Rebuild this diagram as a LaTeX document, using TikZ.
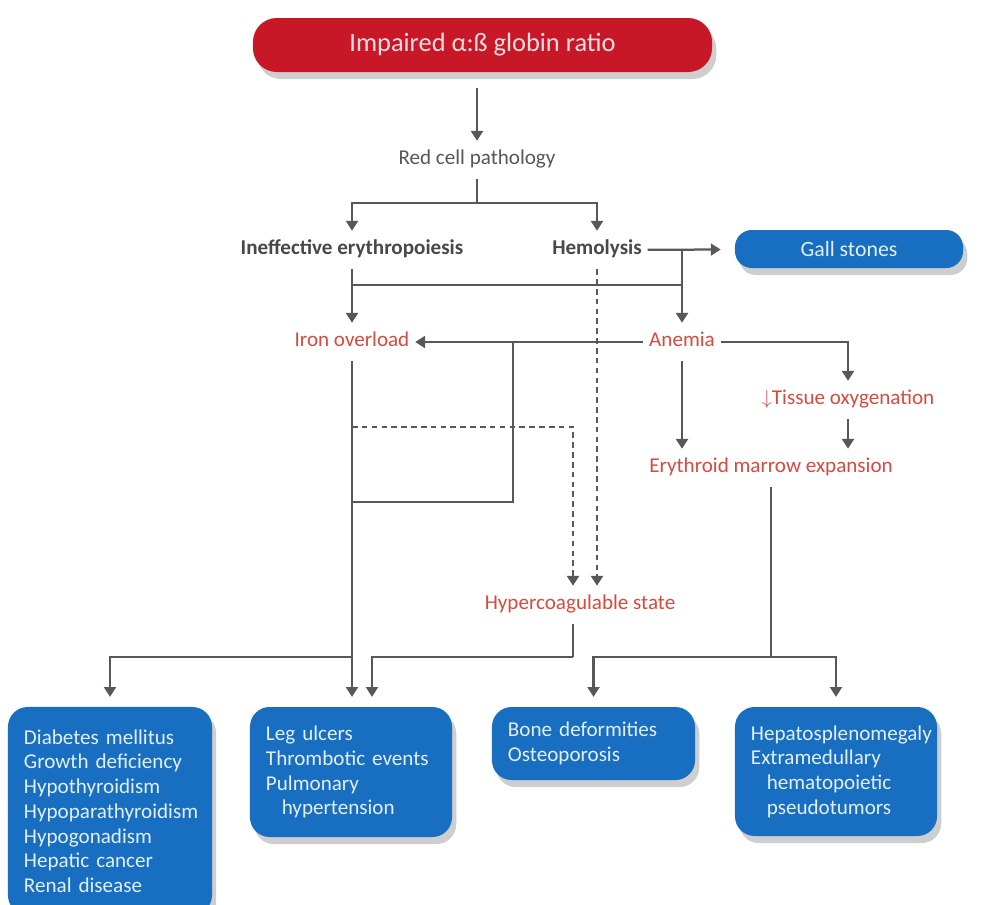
\documentclass[tikz,border=0pt]{standalone}
\usepackage{fontspec}
\setmainfont{Carlito}
\usetikzlibrary{arrows.meta,shadows}

\definecolor{ratiored}{RGB}{200,24,40}
\definecolor{organblue}{RGB}{24,110,192}
\definecolor{stepred}{RGB}{216,74,64}
\definecolor{wiregray}{RGB}{88,88,88}
\definecolor{labelgray}{RGB}{72,72,72}

\tikzset{
	wire/.style={draw=wiregray, line width=1.6pt},
	flow/.style={wire, -{Triangle[length=7pt,width=8.5pt]}},
	maybe/.style={flow, dash pattern=on 4pt off 3pt},
	soft/.style={drop shadow={shadow xshift=3pt, shadow yshift=-5pt, fill=black!55, opacity=.35}},
	cause/.style={inner xsep=4pt, inner ysep=7pt, text height=10pt, text depth=3pt, font=\fontsize{15}{17}\selectfont},
	grayword/.style={cause, text=labelgray, font=\fontsize{15}{17}\selectfont\bfseries},
	redword/.style={cause, text=stepred},
	organs/.style={soft, fill=organblue, rounded corners=14pt, text=white!88!organblue, align=left, inner xsep=0.4cm, inner ysep=0pt, font=\fontsize{15}{17.6}\selectfont},
}

\begin{document}
\begin{tikzpicture}[x=0.025cm, y=-0.025cm]
		%%%%% START %%%%%
		\useasboundingbox (0,0) rectangle (990,904);
		\clip (0,0) rectangle (990,904);
		\fill[white] (0,0) rectangle (990,904);
		
		\node[soft, fill=ratiored, rounded corners=17pt, minimum width=11.475cm, minimum height=1.35cm, text=white!85!ratiored, font=\fontsize{18.8}{21}\selectfont] (impaired) at (482.5,45) {Impaired α:ß globin ratio};
		\node[cause, text=wiregray] (redcell) at (477,160) {Red cell pathology};
		
		\node[grayword] (ineff) at (352,250) {Ineffective erythropoiesis};
		\node[grayword] (hemo) at (597,250) {Hemolysis};
		\node[soft, fill=organblue, rounded corners=12pt, minimum width=5.7cm, minimum height=0.95cm, text=white!88!organblue, font=\fontsize{15.5}{17}\selectfont] (gall) at (849,249) {Gall stones};
		
		\node[redword] (iron) at (352,342) {Iron overload};
		\node[redword] (anemia) at (682,342) {Anemia};
		\node[redword] (tissue) at (848,400) {$\downarrow$Tissue oxygenation};
		\node[redword] (erythroid) at (771,468) {Erythroid marrow expansion};
		\node[redword] (hyper) at (580,605) {Hypercoagulable state};
		
		\node[organs, text width=4.3cm, minimum height=5.2cm] (endocrine) at (110,811) {Diabetes mellitus\\Growth deficiency\\Hypothyroidism\\Hypoparathyroidism\\Hypogonadism\\Hepatic cancer\\Renal disease};
		\node[organs, text width=4.25cm, minimum height=3.25cm] (legs) at (351,772) {Leg ulcers\\Thrombotic events\\Pulmonary\\\hspace*{0.75em}hypertension};
		\node[organs, text width=4.275cm, minimum height=1.825cm] (bone) at (593.5,743.5) {Bone deformities\\Osteoporosis};
		\node[organs, text width=4.25cm, minimum height=3.225cm] (hepato) at (836,771.5) {Hepatosplenomegaly\\Extramedullary\\\hspace*{0.75em}hematopoietic\\\hspace*{0.75em}pseudotumors};
		
		% junctions
		\coordinate (split) at (477,203);
		\coordinate (hjoin) at (682,250);
		\coordinate (ijoin) at (352,285);
		\coordinate (abranch) at (513,342);
		\coordinate (ajoin) at (352,502);
		\coordinate (dstart) at (352,427);
		\coordinate (isplit) at (352,657);
		\coordinate (hsplit) at (573,657);
		\coordinate (esplit) at (771,657);
		
		\draw[flow, shorten <=11pt] (impaired.south -| redcell.north) -- (redcell.north);
		\draw[wire] (redcell) -- (split);
		\draw[flow] (split) -| (ineff);
		\draw[flow] (split) -| (hemo);
		
		\draw[flow, shorten >=10pt] (hemo) -- (gall);
		\draw[flow] (hjoin) -- (anemia);
		\draw[flow] (ineff) -- (iron);
		\draw[wire] (ijoin) -- (ijoin -| anemia);
		
		\draw[flow] (anemia) -- (iron);
		\draw[wire] (abranch) |- (ajoin);
		\draw[flow] (anemia) -| (tissue);
		\draw[flow] (anemia) -- (anemia |- erythroid.north);
		\draw[flow] (tissue) -- (tissue |- erythroid.north);
		
		\draw[maybe] (dstart) -| (hyper.north -| 573,0);
		\draw[maybe] (hemo) -- (hemo |- hyper.north);
		
		\draw[wire] (iron) -- (isplit);
		\draw[flow, shorten >=7pt] (isplit) -- (isplit |- legs.north);
		\draw[flow, shorten >=7pt] (isplit) -| (endocrine);
		
		\draw[wire] (hyper.south -| hsplit) -- (hsplit);
		\draw[flow, shorten >=7pt] (hsplit) -| ([xshift=0.525cm]legs.north);
		
		\draw[wire] (erythroid) -- (esplit);
		\draw[flow, shorten >=7pt] (esplit) -| (bone);
		\draw[flow, shorten >=7pt] (esplit) -| (hepato);
		%%%%% END %%%%%
\end{tikzpicture}
\end{document}
